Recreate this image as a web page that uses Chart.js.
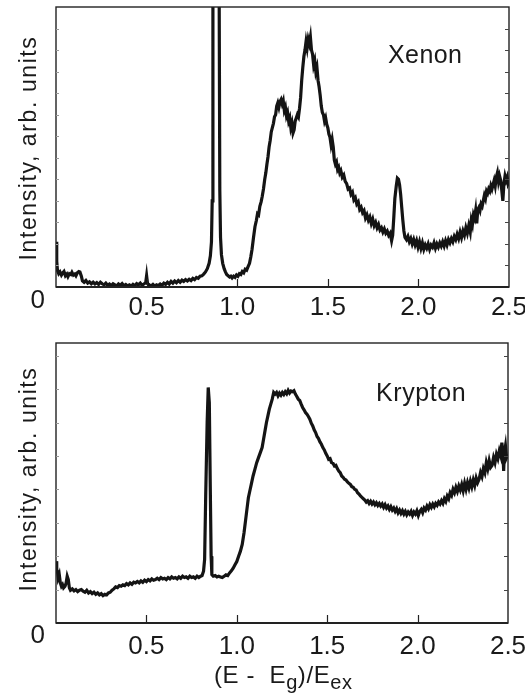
<!DOCTYPE html>
<html>
<head>
<meta charset="utf-8">
<script src="https://cdn.jsdelivr.net/npm/chart.js@4.4.1/dist/chart.umd.min.js"></script>
<style>
  body { margin: 0; background: #fff; }
  #page { position: relative; width: 525px; height: 697px; overflow: hidden; font-family: "Liberation Sans", Arial, sans-serif; color: #1a1a1a; }
  canvas { position: absolute; left: 0; }
  .lbl { position: absolute; white-space: nowrap; }
  .ytitle { position: absolute; white-space: nowrap; font-size: 23px; letter-spacing: 1.6px; transform: translate(-50%, -50%) rotate(-90deg); }
  sub { font-size: 20px; vertical-align: -6px; letter-spacing: 0.5px; }
</style>
</head>
<body>
<div id="page">
  <canvas id="top" width="525" height="320" style="top:0"></canvas>
  <canvas id="bottom" width="525" height="377" style="top:320px"></canvas>
  <div class="ytitle" style="left:28px; top:148px">Intensity, arb. units</div>
  <div class="ytitle" style="left:28px; top:479px">Intensity, arb. units</div>
  <div class="lbl" style="left:388px; top:40px; font-size:25px; letter-spacing:0.4px">Xenon</div>
  <div class="lbl" style="left:376px; top:378px; font-size:25px; letter-spacing:0.6px">Krypton</div>
  <div class="lbl" style="left:214px; top:661px; font-size:24px; letter-spacing:0.6px">(E -&nbsp; E<sub>g</sub>)/E<sub>ex</sub></div>
</div>
<script>
// x axis: (E - Eg)/Eex
const xTicks = [0.5, 1.0, 1.5, 2.0, 2.5];

// Xenon spectrum (top panel); the exciton line at ~0.88 runs off scale
const xenonEnergy = [
  0.000, 0.004, 0.008, 0.015, 0.022, 0.030, 0.038, 0.044, 0.052, 0.060, 0.066, 0.074, 0.082, 0.088, 0.096, 0.104, 0.110, 0.118, 0.126, 0.132,
  0.140, 0.146, 0.155, 0.165, 0.175, 0.185, 0.195, 0.205, 0.215, 0.225, 0.235, 0.245, 0.255, 0.265, 0.275, 0.285, 0.295, 0.305, 0.315, 0.325,
  0.335, 0.345, 0.355, 0.365, 0.375, 0.385, 0.395, 0.405, 0.415, 0.425, 0.435, 0.445, 0.455, 0.465, 0.475, 0.485, 0.495, 0.500, 0.505, 0.515,
  0.525, 0.535, 0.545, 0.555, 0.565, 0.575, 0.585, 0.595, 0.605, 0.615, 0.625, 0.635, 0.645, 0.655, 0.665, 0.675, 0.685, 0.695, 0.705, 0.715,
  0.725, 0.735, 0.745, 0.755, 0.765, 0.775, 0.785, 0.795, 0.805, 0.815, 0.825, 0.835, 0.845, 0.852, 0.858, 0.862, 0.866, 0.898, 0.904, 0.908,
  0.913, 0.920, 0.928, 0.935, 0.942, 0.950, 0.958, 0.965, 0.972, 0.980, 0.988, 0.996, 1.004, 1.012, 1.020, 1.028, 1.036, 1.044, 1.052, 1.060,
  1.068, 1.075, 1.082, 1.090, 1.098, 1.106, 1.112, 1.118, 1.125, 1.132, 1.138, 1.145, 1.152, 1.158, 1.164, 1.170, 1.176, 1.182, 1.188, 1.194,
  1.200, 1.206, 1.212, 1.218, 1.224, 1.230, 1.236, 1.242, 1.248, 1.254, 1.260, 1.266, 1.272, 1.278, 1.284, 1.290, 1.296, 1.302, 1.308, 1.314,
  1.320, 1.326, 1.332, 1.338, 1.344, 1.350, 1.356, 1.362, 1.368, 1.374, 1.380, 1.386, 1.392, 1.398, 1.404, 1.410, 1.416, 1.422, 1.428, 1.434,
  1.440, 1.446, 1.452, 1.458, 1.464, 1.470, 1.476, 1.482, 1.488, 1.494, 1.500, 1.506, 1.512, 1.518, 1.524, 1.530, 1.536, 1.542, 1.548, 1.554,
  1.560, 1.566, 1.572, 1.580, 1.588, 1.596, 1.604, 1.612, 1.620, 1.628, 1.636, 1.644, 1.652, 1.660, 1.668, 1.676, 1.684, 1.692, 1.700, 1.708,
  1.716, 1.724, 1.732, 1.740, 1.748, 1.756, 1.764, 1.772, 1.780, 1.788, 1.796, 1.804, 1.812, 1.820, 1.828, 1.836, 1.844, 1.852, 1.858, 1.864,
  1.870, 1.878, 1.884, 1.890, 1.896, 1.902, 1.908, 1.914, 1.920, 1.926, 1.934, 1.942, 1.950, 1.958, 1.966, 1.974, 1.982, 1.990, 1.998, 2.006,
  2.014, 2.022, 2.030, 2.038, 2.046, 2.054, 2.062, 2.070, 2.078, 2.086, 2.094, 2.102, 2.110, 2.118, 2.126, 2.134, 2.142, 2.150, 2.158, 2.166,
  2.174, 2.182, 2.190, 2.198, 2.206, 2.214, 2.222, 2.230, 2.238, 2.246, 2.254, 2.262, 2.270, 2.278, 2.286, 2.292, 2.298, 2.304, 2.310, 2.316,
  2.322, 2.328, 2.334, 2.340, 2.346, 2.352, 2.358, 2.364, 2.370, 2.376, 2.382, 2.388, 2.394, 2.400, 2.406, 2.412, 2.418, 2.424, 2.430, 2.436,
  2.442, 2.448, 2.454, 2.460, 2.466, 2.472, 2.478, 2.484, 2.490, 2.495, 2.500
];
const xenonIntensity = [
  2.10, 1.20, 0.78, 0.62, 0.70, 0.55, 0.66, 0.72, 0.52, 0.60, 0.48, 0.62, 0.58, 0.68, 0.55, 0.60, 0.52, 0.66, 0.72, 0.70,
  0.50, 0.28, 0.22, 0.30, 0.18, 0.24, 0.15, 0.22, 0.14, 0.20, 0.12, 0.22, 0.15, 0.10, 0.18, 0.08, 0.14, 0.06, 0.15, 0.10,
  0.04, 0.14, 0.08, 0.16, 0.06, 0.12, 0.05, 0.10, 0.04, 0.12, 0.06, 0.16, 0.10, 0.18, 0.08, 0.14, 0.20, 0.52, 0.16, 0.10,
  0.05, 0.12, 0.04, 0.10, 0.06, 0.14, 0.08, 0.18, 0.12, 0.22, 0.14, 0.26, 0.18, 0.28, 0.20, 0.30, 0.22, 0.32, 0.26, 0.34,
  0.28, 0.36, 0.30, 0.40, 0.34, 0.44, 0.40, 0.50, 0.52, 0.60, 0.70, 0.85, 1.10, 1.45, 2.10, 4.00, 20.0, 20.0, 4.50, 2.30,
  1.50, 1.10, 0.85, 0.70, 0.58, 0.52, 0.46, 0.50, 0.42, 0.50, 0.45, 0.56, 0.50, 0.62, 0.58, 0.72, 0.66, 0.82, 0.78, 0.95,
  1.10, 1.40, 1.75, 2.30, 2.80, 3.10, 3.40, 3.35, 3.75, 3.95, 4.20, 4.55, 5.00, 5.30, 5.70, 6.05, 6.50, 6.80, 7.20, 7.40,
  7.60, 7.90, 8.00, 8.40, 8.55, 8.35, 8.60, 8.70, 8.50, 8.65, 8.20, 8.35, 7.95, 8.10, 7.70, 7.85, 7.40, 7.60, 7.15, 7.30,
  7.70, 7.85, 8.00, 7.90, 8.30, 8.80, 9.60, 10.20, 10.70, 11.00, 11.40, 11.10, 11.50, 11.30, 11.60, 11.00, 10.80, 10.30, 10.50, 10.00,
  10.20, 9.60, 9.30, 8.90, 8.40, 8.10, 8.00, 7.70, 7.85, 7.55, 7.40, 7.10, 6.95, 6.60, 6.85, 6.50, 5.90, 5.70, 5.80, 5.45,
  5.55, 5.30, 5.40, 5.10, 5.20, 4.90, 4.80, 4.55, 4.60, 4.30, 4.40, 4.05, 4.15, 3.85, 3.95, 3.60, 3.70, 3.45, 3.55, 3.20,
  3.35, 3.10, 3.25, 2.95, 3.15, 2.85, 3.00, 2.75, 2.90, 2.65, 2.75, 2.55, 2.70, 2.50, 2.60, 2.40, 2.50, 2.15, 2.40, 3.20,
  4.10, 4.70, 5.05, 5.00, 4.75, 4.30, 3.70, 3.10, 2.60, 2.30, 2.20, 2.35, 2.10, 2.25, 2.00, 2.20, 1.95, 2.15, 1.85, 2.10,
  1.80, 2.05, 1.75, 1.95, 1.80, 2.00, 1.75, 1.95, 1.85, 2.05, 1.80, 2.00, 1.85, 2.05, 1.90, 2.10, 1.90, 2.15, 1.95, 2.20,
  2.05, 2.25, 2.10, 2.35, 2.20, 2.45, 2.25, 2.55, 2.30, 2.60, 2.40, 2.75, 2.50, 2.85, 2.55, 3.10, 2.90, 3.35, 3.20, 3.55,
  2.95, 3.60, 3.70, 3.55, 3.85, 3.75, 4.00, 4.25, 4.10, 4.45, 4.35, 4.55, 4.45, 4.70, 4.55, 4.75, 4.95, 4.70, 5.10, 5.30,
  4.90, 5.15, 4.95, 4.50, 4.00, 4.80, 5.15, 4.95, 5.10, 4.80, 4.90
];

// Krypton spectrum (bottom panel)
const kryptonEnergy = [
  0.000, 0.004, 0.008, 0.012, 0.018, 0.024, 0.030, 0.036, 0.042, 0.050, 0.056, 0.062, 0.068, 0.074, 0.080, 0.090, 0.100, 0.110, 0.120, 0.130,
  0.140, 0.150, 0.160, 0.170, 0.180, 0.190, 0.200, 0.210, 0.220, 0.230, 0.240, 0.250, 0.260, 0.270, 0.280, 0.290, 0.300, 0.310, 0.320, 0.330,
  0.340, 0.350, 0.360, 0.370, 0.380, 0.390, 0.400, 0.410, 0.420, 0.430, 0.440, 0.450, 0.460, 0.470, 0.480, 0.490, 0.500, 0.510, 0.520, 0.530,
  0.540, 0.550, 0.560, 0.570, 0.580, 0.590, 0.600, 0.610, 0.620, 0.630, 0.640, 0.650, 0.660, 0.670, 0.680, 0.690, 0.700, 0.710, 0.720, 0.730,
  0.740, 0.750, 0.760, 0.770, 0.780, 0.790, 0.800, 0.808, 0.816, 0.822, 0.828, 0.836, 0.842, 0.848, 0.853, 0.858, 0.862, 0.870, 0.880, 0.890,
  0.900, 0.910, 0.920, 0.930, 0.940, 0.950, 0.960, 0.970, 0.980, 0.990, 1.000, 1.010, 1.020, 1.030, 1.040, 1.048, 1.056, 1.064, 1.072, 1.080,
  1.090, 1.100, 1.110, 1.120, 1.130, 1.140, 1.148, 1.156, 1.164, 1.172, 1.180, 1.188, 1.196, 1.204, 1.212, 1.220, 1.228, 1.236, 1.244, 1.252,
  1.260, 1.268, 1.276, 1.284, 1.292, 1.300, 1.308, 1.316, 1.324, 1.332, 1.340, 1.348, 1.356, 1.364, 1.372, 1.380, 1.388, 1.396, 1.404, 1.412,
  1.420, 1.428, 1.436, 1.444, 1.452, 1.460, 1.468, 1.476, 1.484, 1.492, 1.500, 1.508, 1.516, 1.524, 1.532, 1.540, 1.548, 1.556, 1.564, 1.572,
  1.580, 1.588, 1.596, 1.604, 1.612, 1.620, 1.628, 1.636, 1.644, 1.652, 1.660, 1.668, 1.676, 1.684, 1.692, 1.700, 1.708, 1.716, 1.724, 1.732,
  1.740, 1.748, 1.756, 1.764, 1.772, 1.780, 1.788, 1.796, 1.804, 1.812, 1.820, 1.828, 1.836, 1.844, 1.852, 1.860, 1.868, 1.876, 1.884, 1.892,
  1.900, 1.908, 1.916, 1.924, 1.932, 1.940, 1.948, 1.956, 1.964, 1.972, 1.980, 1.988, 1.996, 2.004, 2.012, 2.020, 2.028, 2.036, 2.044, 2.052,
  2.060, 2.068, 2.076, 2.084, 2.092, 2.100, 2.108, 2.116, 2.124, 2.132, 2.140, 2.148, 2.156, 2.164, 2.172, 2.180, 2.188, 2.196, 2.204, 2.212,
  2.220, 2.228, 2.236, 2.244, 2.252, 2.260, 2.268, 2.276, 2.284, 2.292, 2.300, 2.308, 2.316, 2.324, 2.332, 2.340, 2.348, 2.356, 2.364, 2.372,
  2.380, 2.388, 2.396, 2.404, 2.412, 2.420, 2.428, 2.436, 2.444, 2.452, 2.460, 2.466, 2.472, 2.476, 2.480, 2.486, 2.492, 2.500
];
const kryptonIntensity = [
  1.85, 1.60, 1.55, 1.35, 1.45, 1.20, 1.10, 1.15, 1.05, 1.10, 1.20, 1.40, 1.30, 1.05, 0.98, 1.02, 0.96, 1.00, 0.94, 0.98,
  1.00, 0.95, 0.92, 0.98, 0.90, 0.94, 0.88, 0.92, 0.86, 0.90, 0.84, 0.88, 0.82, 0.86, 0.84, 0.90, 0.92, 0.98, 1.02, 1.08,
  1.06, 1.12, 1.10, 1.14, 1.12, 1.18, 1.14, 1.20, 1.16, 1.22, 1.20, 1.24, 1.20, 1.26, 1.22, 1.28, 1.24, 1.30, 1.26, 1.32,
  1.28, 1.30, 1.34, 1.30, 1.36, 1.32, 1.34, 1.30, 1.36, 1.32, 1.38, 1.34, 1.36, 1.32, 1.38, 1.34, 1.40, 1.36, 1.38, 1.34,
  1.40, 1.36, 1.38, 1.34, 1.40, 1.36, 1.40, 1.42, 1.55, 1.90, 3.80, 6.00, 7.05, 6.60, 4.20, 2.00, 1.45, 1.40, 1.42, 1.38,
  1.40, 1.38, 1.36, 1.40, 1.44, 1.42, 1.50, 1.56, 1.64, 1.74, 1.84, 2.00, 2.15, 2.35, 2.70, 3.05, 3.40, 3.75, 3.95, 4.15,
  4.40, 4.60, 4.80, 4.95, 5.10, 5.25, 5.50, 5.75, 6.00, 6.20, 6.40, 6.55, 6.70, 6.90, 6.85, 6.90, 6.80, 6.88, 6.82, 6.90,
  6.84, 6.92, 6.86, 6.96, 6.88, 6.94, 6.92, 6.95, 6.85, 6.78, 6.70, 6.66, 6.55, 6.45, 6.38, 6.30, 6.25, 6.18, 6.10, 5.98,
  5.90, 5.78, 5.70, 5.58, 5.52, 5.42, 5.35, 5.25, 5.18, 5.08, 5.00, 4.90, 4.92, 4.80, 4.78, 4.70, 4.72, 4.62, 4.55, 4.50,
  4.40, 4.36, 4.30, 4.28, 4.22, 4.18, 4.15, 4.08, 4.06, 4.00, 3.98, 3.90, 3.86, 3.80, 3.76, 3.72, 3.68, 3.62, 3.66, 3.58,
  3.64, 3.56, 3.62, 3.54, 3.60, 3.52, 3.58, 3.50, 3.56, 3.46, 3.54, 3.44, 3.50, 3.40, 3.48, 3.38, 3.44, 3.34, 3.42, 3.30,
  3.38, 3.28, 3.36, 3.26, 3.34, 3.24, 3.32, 3.26, 3.34, 3.22, 3.32, 3.26, 3.36, 3.22, 3.34, 3.40, 3.30, 3.44, 3.38, 3.50,
  3.42, 3.54, 3.46, 3.56, 3.48, 3.58, 3.52, 3.62, 3.56, 3.66, 3.58, 3.72, 3.64, 3.80, 3.72, 3.90, 3.82, 4.00, 3.90, 4.06,
  3.94, 4.10, 3.98, 4.14, 3.96, 4.18, 4.00, 4.20, 4.04, 4.24, 4.08, 4.28, 4.12, 4.34, 4.20, 4.30, 4.50, 4.38, 4.62, 4.50,
  4.80, 4.62, 4.86, 4.66, 4.72, 4.95, 4.80, 5.05, 4.92, 5.15, 5.00, 5.40, 5.10, 4.55, 5.10, 5.30, 4.95, 5.05
];

function toPoints(xs, ys) {
    return xs.map((x, i) => ({ x: x, y: ys[i] }));
}

// frame around the plot and small inward tick marks
const framePlugin = {
    id: 'frame',
    afterDraw(chart) {
        const ctx = chart.ctx;
        const a = chart.chartArea;
        const xs = chart.scales.x, ys = chart.scales.y;
        ctx.save();
        ctx.strokeStyle = '#222';
        ctx.lineWidth = 1.4;
        ctx.strokeRect(a.left, a.top, a.right - a.left, a.bottom - a.top);
        ctx.lineWidth = 2;
        ctx.beginPath();
        ctx.moveTo(a.left, a.bottom);
        ctx.lineTo(a.right, a.bottom);
        ctx.stroke();
        ctx.lineWidth = 1.2;
        ctx.beginPath();
        [0.5, 1.0, 1.5, 2.0].forEach(v => {
            const px = Math.round(xs.getPixelForValue(v)) + 0.5;
            ctx.moveTo(px, a.bottom);
            ctx.lineTo(px, a.bottom - 8);
        });
        ctx.stroke();
        ctx.lineWidth = 1;
        for (let v = 1; v < ys.max; v++) {
            const py = Math.round(ys.getPixelForValue(v)) + 0.5;
            ctx.strokeStyle = '#999';
            ctx.beginPath();
            ctx.moveTo(a.left, py);
            ctx.lineTo(a.left + 3, py);
            ctx.stroke();
            ctx.strokeStyle = '#444';
            ctx.beginPath();
            ctx.moveTo(a.right, py);
            ctx.lineTo(a.right - 4, py);
            ctx.stroke();
        }
        ctx.restore();
    }
};

function makeChart(id, points, yMax, pad, xHeight, xPad, zeroOffset) {
    return new Chart(document.getElementById(id), {
        type: 'line',
        data: {
            datasets: [{
                data: points,
                borderColor: '#141414',
                borderWidth: 3.2,
                pointRadius: 0,
                tension: 0,
                fill: false
            }]
        },
        options: {
            responsive: false,
            animation: false,
            layout: { padding: pad },
            plugins: { legend: { display: false }, tooltip: { enabled: false } },
            scales: {
                x: {
                    type: 'linear',
                    min: 0,
                    max: 2.5,
                    grid: { display: false, drawTicks: false },
                    border: { display: false },
                    afterBuildTicks: scale => { scale.ticks = xTicks.map(v => ({ value: v })); },
                    ticks: {
                        padding: xPad,
                        color: '#1a1a1a',
                        font: { family: 'Liberation Sans', size: 26 },
                        maxRotation: 0,
                        autoSkip: false,
                        callback: v => v.toFixed(1)
                    },
                    afterFit: scale => {
                        scale.height = xHeight;
                        scale.paddingLeft = 0;
                        scale.paddingRight = 0;
                    }
                },
                y: {
                    min: 0,
                    max: yMax,
                    grid: { display: false, drawTicks: false },
                    border: { display: false },
                    ticks: {
                        stepSize: 1,
                        padding: 11,
                        labelOffset: zeroOffset,
                        autoSkip: false,
                        color: '#1a1a1a',
                        font: { family: 'Liberation Sans', size: 26 },
                        callback: v => (v === 0 ? '0' : '')
                    },
                    afterFit: scale => {
                        scale.width = 56;
                        scale.paddingTop = 0;
                        scale.paddingBottom = 0;
                    }
                }
            }
        },
        plugins: [framePlugin]
    });
}

makeChart('top', toPoints(xenonEnergy, xenonIntensity), 13, { top: 7, right: 16, left: 0, bottom: 0 }, 33, 5, 14);
makeChart('bottom', toPoints(kryptonEnergy, kryptonIntensity), 8.38, { top: 23, right: 17, left: 0, bottom: 0 }, 74, 8, 13);
</script>
</body>
</html>
